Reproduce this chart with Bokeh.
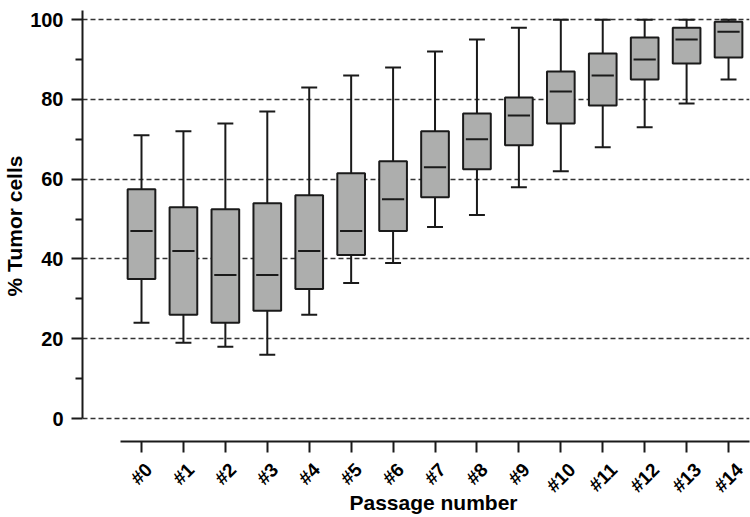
import numpy as np
from bokeh.plotting import figure
from bokeh.models import ColumnDataSource, Range1d, FixedTicker, CustomJSTickFormatter
from bokeh.embed import file_html
from bokeh.resources import INLINE

passages = ["#0", "#1", "#2", "#3", "#4", "#5", "#6", "#7", "#8", "#9",
            "#10", "#11", "#12", "#13", "#14"]
whisker_low = [24, 19, 18, 16, 26, 34, 39, 48, 51, 58, 62, 68, 73, 79, 85]
q1 = [35, 26, 24, 27, 32.5, 41, 47, 55.5, 62.5, 68.5, 74, 78.5, 85, 89, 90.5]
median = [47, 42, 36, 36, 42, 47, 55, 63, 70, 76, 82, 86, 90, 95, 97]
q3 = [57.5, 53, 52.5, 54, 56, 61.5, 64.5, 72, 76.5, 80.5, 87, 91.5, 95.5, 98, 99.5]
whisker_high = [71, 72, 74, 77, 83, 86, 88, 92, 95, 98, 100, 100, 100, 100, 100]
y_ticks = [0, 20, 40, 60, 80, 100]
y_minor_ticks = [10, 30, 50, 70, 90]
x_title = "Passage number"
y_title = "% Tumor cells"

xs = np.arange(len(passages))
BOX_W = 0.66
CAP_W = 0.38
MED_W = 0.53
X_RANGE = (-1.407, len(passages) - 0.5)
FRAME_W = 750 - 82 - 1
PX_PER_UNIT = FRAME_W / (X_RANGE[1] - X_RANGE[0])
XLAB_SIZE = 19

src = ColumnDataSource(dict(
    x=xs, lo=whisker_low, q1=q1, med=median, q3=q3, hi=whisker_high,
    cap_l=xs - CAP_W / 2, cap_r=xs + CAP_W / 2,
    med_l=xs - MED_W / 2, med_r=xs + MED_W / 2,
))

FONT = "Liberation Sans"
INK = "#1a1a1a"

p = figure(width=750, height=517, output_backend="svg", toolbar_location=None,
           x_range=Range1d(*X_RANGE), y_range=Range1d(-5.76, 102.3),
           min_border_left=82, min_border_right=1, min_border_top=10,
           min_border_bottom=76)
p.outline_line_color = None
p.background_fill_color = "white"
p.border_fill_color = "white"

# grid
p.xgrid.visible = False
p.ygrid.ticker = FixedTicker(ticks=y_ticks)
p.ygrid.grid_line_color = "#333333"
p.ygrid.grid_line_dash = "5 3"
p.ygrid.grid_line_width = 1.5

# whiskers
p.segment(x0="x", y0="q3", x1="x", y1="hi", source=src, line_color=INK, line_width=2)
p.segment(x0="x", y0="lo", x1="x", y1="q1", source=src, line_color=INK, line_width=2)
p.segment(x0="cap_l", y0="hi", x1="cap_r", y1="hi", source=src, line_color=INK, line_width=2)
p.segment(x0="cap_l", y0="lo", x1="cap_r", y1="lo", source=src, line_color=INK, line_width=2)
# boxes
p.vbar(x="x", width=BOX_W, bottom="q1", top="q3", source=src,
       fill_color="#adaead", line_color=INK, line_width=2)
# medians
p.segment(x0="med_l", y0="med", x1="med_r", y1="med", source=src, line_color=INK, line_width=2)

# y axis
ya = p.yaxis[0]
ya.ticker = FixedTicker(ticks=y_ticks, minor_ticks=y_minor_ticks)
ya.bounds = (0, 102.3)
ya.axis_line_width = 2
ya.axis_line_color = INK
ya.major_tick_line_width = 2
ya.major_tick_line_color = INK
ya.minor_tick_line_width = 2
ya.minor_tick_line_color = INK
ya.major_tick_in = 0
ya.major_tick_out = 11
ya.minor_tick_in = 0
ya.minor_tick_out = 7
ya.major_label_standoff = 8
ya.major_label_text_font = FONT
ya.major_label_text_font_style = "bold"
ya.major_label_text_font_size = "20px"
ya.major_label_text_color = "black"
ya.axis_label = y_title
ya.axis_label_text_font = FONT
ya.axis_label_text_font_style = "bold"
ya.axis_label_text_font_size = "21px"
ya.axis_label_text_color = "black"
ya.axis_label_standoff = 1

# x axis: visible tick marks are the (minor) ticks at each passage; the
# label-carrying major ticks are nudged so each rotated label is centred
# beneath its tick mark.
label_shift = np.array([0.354 * len(s) * 0.556 * XLAB_SIZE for s in passages]) / PX_PER_UNIT
xa = p.xaxis[0]
xa.ticker = FixedTicker(ticks=list(xs + label_shift), minor_ticks=list(xs))
xa.formatter = CustomJSTickFormatter(args=dict(labels=passages),
                                     code="return labels[Math.round(tick)]")
xa.bounds = (-0.5, len(passages) - 0.5)
xa.axis_line_width = 2
xa.axis_line_color = INK
xa.major_tick_line_color = None
xa.major_tick_in = 0
xa.major_tick_out = 11
xa.minor_tick_line_width = 2
xa.minor_tick_line_color = INK
xa.minor_tick_in = 0
xa.minor_tick_out = 11
xa.major_label_orientation = np.pi / 4
xa.major_label_standoff = 14
xa.major_label_text_font = FONT
xa.major_label_text_font_style = "bold"
xa.major_label_text_font_size = f"{XLAB_SIZE}px"
xa.major_label_text_color = "black"
xa.axis_label = "\u00a0" * 6 + x_title
xa.axis_label_text_font = FONT
xa.axis_label_text_font_style = "bold"
xa.axis_label_text_font_size = "21px"
xa.axis_label_text_color = "black"
xa.axis_label_standoff = -16

open("out.html", "w").write(file_html(p, INLINE))
